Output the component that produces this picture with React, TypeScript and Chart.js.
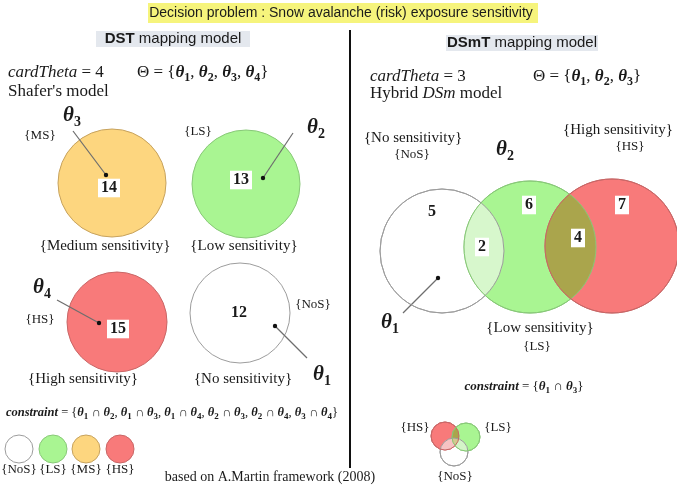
import React, { useEffect, useRef } from "react";
import { Chart, registerables } from "chart.js";
Chart.register(...registerables);

const W = 677;
const H = 485;

// ---------------- data ----------------
const title = "Decision problem : Snow avalanche (risk) exposure sensitivity";
const panelNames = ["DST", "DSmT"];
const cardTheta = [4, 3];
const modelNames = ["Shafer's model", "Hybrid DSm model"];
// DST (Shafer) sets, order: NoS, LS, MS, HS  (theta 1..4)
const dstSetCodes = ["{NoS}", "{LS}", "{MS}", "{HS}"];
const dstSetNames = ["{No sensitivity}", "{Low sensitivity}", "{Medium sensitivity}", "{High sensitivity}"];
const dstThetaIdx = [1, 2, 3, 4];
const dstElementIds = [12, 13, 14, 15];
const dstConstraint = [[1, 2], [1, 3], [1, 4], [2, 3], [2, 4], [3, 4]];
// DSmT (hybrid) sets, order: NoS, LS, HS (theta 1..3)
const dsmtSetCodes = ["{NoS}", "{LS}", "{HS}"];
const dsmtSetNames = ["{No sensitivity}", "{Low sensitivity}", "{High sensitivity}"];
const dsmtThetaIdx = [1, 2, 3];
// regions: θ1 only, θ2 only, θ3 only, θ1∩θ2, θ2∩θ3
const dsmtElementIds = [5, 6, 7, 2, 4];
const dsmtConstraint = [[1, 3]];
const legendCodes = ["{NoS}", "{LS}", "{MS}", "{HS}"];
const credit = "based on A.Martin framework (2008)";

// ---------------- styles / layout ----------------
const setFill: Record<string, string> = { "{NoS}": "#ffffff", "{LS}": "#a9f592", "{MS}": "#fdd67f", "{HS}": "#f87a7a" };
const setEdge: Record<string, string> = { "{NoS}": "#9c9c9c", "{LS}": "#88c878", "{MS}": "#c6a25e", "{HS}": "#c86666" };

const dstCx = [240, 246, 112, 117];
const dstCy = [313, 184, 183, 322];
const dstR = [50, 54, 54, 50];
const dstNumX = [239, 241, 109, 118];
const dstNumY = [313, 180, 188, 329];
const dstNumBox = [false, true, true, true];
const dstCodePos = [[313, 305], [198, 132], [40, 136], [40, 320]];
const dstNamePos = [[243, 379], [244, 246], [105, 246], [83, 379]];
const dstThetaPos = [[322, 375], [316, 128], [72, 116], [42, 288]];
const dstArrows = [[[307, 358], [275, 326]], [[293, 133], [263, 178]], [[73, 131], [106, 175]], [[57, 300], [99, 323]]];

const dsmtCx = [442, 530, 612];
const dsmtCy = [251, 247, 246];
const dsmtR = [62, 66, 67];
const dsmtNumX = [432, 529, 622, 482, 578];
const dsmtNumY = [212, 205, 205, 247, 238];
const dsmtNumBox = [false, true, true, true, true];
const dsmtCodePos = [[412, 155], [537, 347], [630, 147]];
const dsmtNamePos = [[413, 138], [540, 328], [618, 130]];
const dsmtThetaPos = [[390, 323], [505, 150]];
const dsmtArrow = [[403, 313], [438, 278]];

const legendX = [19, 53, 86, 120];
const legendY = 449;
const legendR = 14;
const legendLabelY = 470;

const miniCodes = ["{NoS}", "{HS}", "{LS}"];
const miniCx = [454, 445, 466];
const miniCy = [452, 436, 437];
const miniR = [14, 14, 14];
const miniLabelPos = [[455, 477], [415, 428], [498, 428]];

type Part = { t: string; f?: string };
type TextItem = { x: number; y: number; parts: Part[]; s: number; align?: string; box?: boolean };

const SERIF = '"Liberation Serif", "DejaVu Serif", serif';
const SANS = '"Liberation Sans", Arial, sans-serif';

function fontOf(f: string | undefined, s: number) {
  switch (f) {
    case "i": return `italic ${s}px ${SERIF}`;
    case "bi": return `italic bold ${s}px ${SERIF}`;
    case "b": return `bold ${s}px ${SERIF}`;
    case "sub": return `bold ${Math.round(s * 0.68)}px ${SERIF}`;
    case "sans": return `${s}px ${SANS}`;
    case "sansb": return `bold ${s}px ${SANS}`;
    default: return `${s}px ${SERIF}`;
  }
}

const th = (n: number): Part[] => [{ t: "θ", f: "bi" }, { t: String(n), f: "sub" }];
const thetaSet = (idx: number[]): Part[] => [
  { t: "Θ = {", f: "r" },
  ...idx.flatMap((n, i) => [...(i ? [{ t: ", ", f: "r" }] : []), ...th(n)]),
  { t: "}", f: "r" },
];
const constraintParts = (pairs: number[][]): Part[] => [
  { t: "constraint", f: "bi" },
  { t: " = {", f: "r" },
  ...pairs.flatMap((p, i) => [
    ...(i ? [{ t: ", ", f: "r" }] : []),
    ...th(p[0]),
    { t: " ∩ ", f: "r" },
    ...th(p[1]),
  ]),
  { t: "}", f: "r" },
];

function buildTexts(): TextItem[] {
  const T: TextItem[] = [];
  const plain = (x: number, y: number, t: string, s = 14, align = "center") =>
    T.push({ x, y, parts: [{ t }], s, align });
  T.push({ x: 341, y: 13, parts: [{ t: title, f: "sans" }], s: 14, align: "center" });
  T.push({ x: 173, y: 39, parts: [{ t: panelNames[0], f: "sansb" }, { t: " mapping model", f: "sans" }], s: 15, align: "center" });
  T.push({ x: 522, y: 43, parts: [{ t: panelNames[1], f: "sansb" }, { t: " mapping model", f: "sans" }], s: 15, align: "center" });
  // left header
  T.push({ x: 8, y: 73, parts: [{ t: "cardTheta", f: "i" }, { t: " = " + cardTheta[0] }], s: 17, align: "left" });
  T.push({ x: 137, y: 73, parts: thetaSet(dstThetaIdx), s: 17, align: "left" });
  T.push({ x: 8, y: 92, parts: [{ t: modelNames[0] }], s: 17, align: "left" });
  // right header
  T.push({ x: 370, y: 77, parts: [{ t: "cardTheta", f: "i" }, { t: " = " + cardTheta[1] }], s: 17, align: "left" });
  T.push({ x: 533, y: 77, parts: thetaSet(dsmtThetaIdx), s: 17, align: "left" });
  const mn = modelNames[1].split(" ");
  T.push({ x: 370, y: 94, parts: [{ t: mn[0] + " " }, { t: mn[1], f: "i" }, { t: " " + mn[2] }], s: 17, align: "left" });
  // DST labels
  dstSetCodes.forEach((c, i) => plain(dstCodePos[i][0], dstCodePos[i][1], c, 13));
  dstSetNames.forEach((c, i) => plain(dstNamePos[i][0], dstNamePos[i][1], c, 15));
  dstThetaIdx.forEach((n, i) => T.push({ x: dstThetaPos[i][0], y: dstThetaPos[i][1], parts: th(n), s: 21, align: "center" }));
  dstElementIds.forEach((v, i) => T.push({ x: dstNumX[i], y: dstNumY[i], parts: [{ t: String(v), f: "b" }], s: 16, align: "center", box: dstNumBox[i] }));
  T.push({ x: 172, y: 413, parts: constraintParts(dstConstraint), s: 12.5, align: "center" });
  legendCodes.forEach((c, i) => plain(legendX[i], legendLabelY, c, 13));
  plain(270, 477, credit, 14);
  // DSmT labels
  dsmtSetCodes.forEach((c, i) => plain(dsmtCodePos[i][0], dsmtCodePos[i][1], c, 13));
  dsmtSetNames.forEach((c, i) => plain(dsmtNamePos[i][0], dsmtNamePos[i][1], c, 15));
  [1, 2].forEach((n, i) => T.push({ x: dsmtThetaPos[i][0], y: dsmtThetaPos[i][1], parts: th(dsmtThetaIdx[n - 1]), s: 21, align: "center" }));
  dsmtElementIds.forEach((v, i) => T.push({ x: dsmtNumX[i], y: dsmtNumY[i], parts: [{ t: String(v), f: "b" }], s: 16, align: "center", box: dsmtNumBox[i] }));
  T.push({ x: 524, y: 387, parts: constraintParts(dsmtConstraint), s: 13, align: "center" });
  miniCodes.forEach((c, i) => plain(miniLabelPos[i][0], miniLabelPos[i][1], c, 13));
  return T;
}

const bgBoxes = [
  { x0: 148, y0: 3, x1: 538, y1: 23, fill: "#f6f47c" },
  { x0: 96, y0: 31, x1: 250, y1: 47, fill: "#e4e8ee" },
  { x0: 446, y0: 35, x1: 598, y1: 51, fill: "#e4e8ee" },
];

// bubble points
type Pt = { x: number; y: number; r: number; code: string };
const circles: Pt[] = [
  ...dstSetCodes.map((c, i) => ({ x: dstCx[i], y: dstCy[i], r: dstR[i], code: c })), // 0..3
  ...dsmtSetCodes.map((c, i) => ({ x: dsmtCx[i], y: dsmtCy[i], r: dsmtR[i], code: c })), // 4..6
  ...legendCodes.map((c, i) => ({ x: legendX[i], y: legendY, r: legendR, code: c })), // 7..10
  ...miniCodes.map((c, i) => ({ x: miniCx[i], y: miniCy[i], r: miniR[i], code: c })), // 11..13
];
const overlaps = [
  { ids: [4, 5], fill: "#d7f7cc" },
  { ids: [5, 6], fill: "#aaa54c" },
  { ids: [11, 12], fill: "#f6c3c3" },
  { ids: [11, 13], fill: "#d4f4c8" },
  { ids: [12, 13], fill: "#aaa54c" },
  { ids: [11, 12, 13], fill: "#d2c98e" },
];

const arrows = [...dstArrows, dsmtArrow];

const diagramPlugin = {
  id: "diagram",
  beforeDatasetsDraw(chart: any) {
    const ctx = chart.ctx;
    const sx = chart.scales.x, sy = chart.scales.y;
    ctx.save();
    bgBoxes.forEach((b) => {
      const x0 = sx.getPixelForValue(b.x0), x1 = sx.getPixelForValue(b.x1);
      const y0 = sy.getPixelForValue(b.y0), y1 = sy.getPixelForValue(b.y1);
      ctx.fillStyle = b.fill;
      ctx.fillRect(x0, y0, x1 - x0, y1 - y0);
    });
    ctx.restore();
  },
  afterDatasetsDraw(chart: any) {
    const ctx = chart.ctx;
    const sx = chart.scales.x, sy = chart.scales.y;
    const meta = chart.getDatasetMeta(0);
    const els = meta.data;
    const circ = (i: number) => {
      const e = els[i];
      ctx.beginPath();
      ctx.arc(e.x, e.y, e.options.radius, 0, Math.PI * 2);
    };
    overlaps.forEach((o) => {
      ctx.save();
      o.ids.forEach((i) => { circ(i); ctx.clip(); });
      ctx.fillStyle = o.fill;
      ctx.fillRect(0, 0, chart.width, chart.height);
      ctx.restore();
    });
    // re-stroke borders
    ctx.save();
    ctx.lineWidth = 1;
    circles.forEach((c, i) => {
      if (i < 4 || (i > 6 && i < 11)) return;
      circ(i);
      ctx.strokeStyle = setEdge[c.code];
      ctx.stroke();
    });
    ctx.restore();
    // texts
    ctx.save();
    buildTexts().forEach((it) => {
      const x = sx.getPixelForValue(it.x), y = sy.getPixelForValue(it.y);
      const ws: number[] = [];
      let w = 0;
      it.parts.forEach((p) => { ctx.font = fontOf(p.f, it.s); const m = ctx.measureText(p.t).width; ws.push(m); w += m; });
      let cx = it.align === "left" ? x : it.align === "right" ? x - w : x - w / 2;
      if (it.box) {
        ctx.fillStyle = "#ffffff";
        ctx.fillRect(cx - 3, y - it.s * 0.58, w + 6, it.s * 1.16);
      }
      ctx.textAlign = "left";
      ctx.textBaseline = "middle";
      ctx.fillStyle = "#1a1a1a";
      it.parts.forEach((p, k) => {
        ctx.font = fontOf(p.f, it.s);
        ctx.fillText(p.t, cx, p.f === "sub" ? y + it.s * 0.3 : y);
        cx += ws[k];
      });
    });
    ctx.restore();
  },
};

export default function App() {
  const ref = useRef<HTMLCanvasElement | null>(null);
  useEffect(() => {
    if (!ref.current) return;
    const datasets: any[] = [
      {
        type: "bubble",
        data: circles.map((c) => ({ x: c.x, y: c.y, r: c.r })),
        backgroundColor: circles.map((c) => setFill[c.code]),
        borderColor: circles.map((c) => setEdge[c.code]),
        borderWidth: 1,
        hoverRadius: 0,
        clip: false,
        order: 3,
      },
      ...arrows.map((a) => ({
        type: "line",
        data: a.map((p) => ({ x: p[0], y: p[1] })),
        borderColor: "#6e6e6e",
        borderWidth: 1.2,
        pointRadius: [0, 2.2],
        pointBackgroundColor: "#111111",
        pointBorderWidth: 0,
        clip: false,
        order: 1,
      })),
      {
        type: "line",
        data: [{ x: 350, y: 30 }, { x: 350, y: 468 }],
        borderColor: "#111111",
        borderWidth: 2,
        pointRadius: 0,
        order: 1,
      },
    ];
    const chart = new Chart(ref.current, {
      type: "bubble",
      data: { datasets },
      options: {
        animation: false,
        responsive: false,
        devicePixelRatio: 1,
        events: [],
        layout: { padding: 0, autoPadding: false },
        scales: {
          x: { type: "linear", min: 0, max: W, display: false },
          y: { type: "linear", min: 0, max: H, reverse: true, display: false },
        },
        plugins: { legend: { display: false }, tooltip: { enabled: false } },
      },
      plugins: [diagramPlugin],
    } as any);
    return () => chart.destroy();
  }, []);
  return (
    <div style={{ position: "absolute", left: 0, top: 0, width: W, height: H, background: "#ffffff" }}>
      <canvas ref={ref} width={W} height={H} style={{ display: "block", width: W, height: H }} />
    </div>
  );
}
